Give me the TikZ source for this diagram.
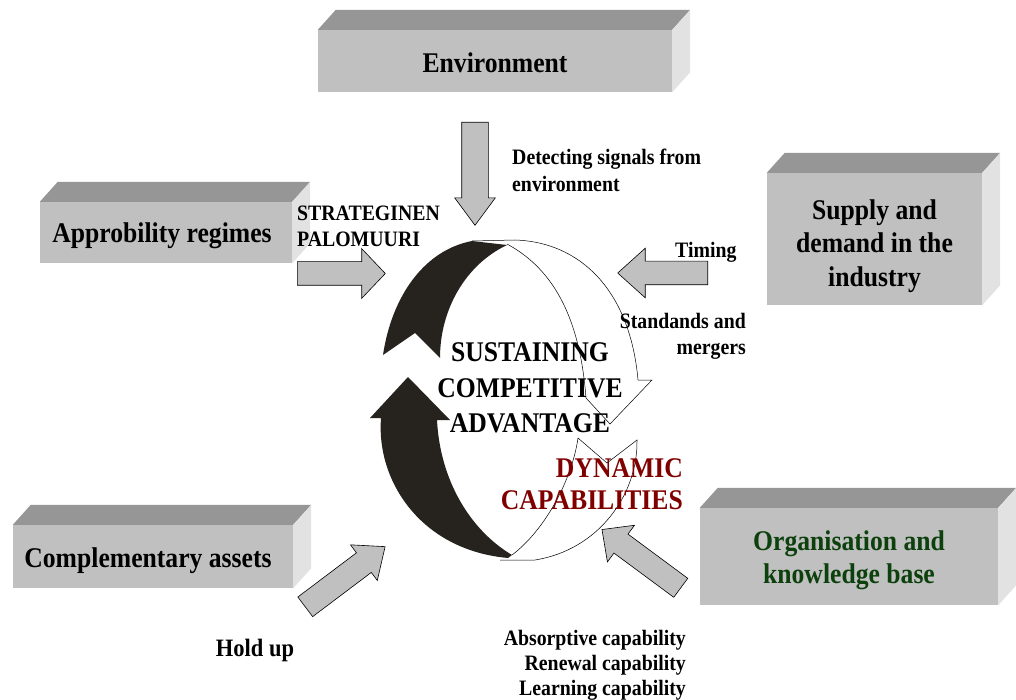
\documentclass[tikz,border=0pt]{standalone}
\usepackage{fontspec}
\setmainfont{Liberation Serif}[FakeStretch=0.9]
\usepackage{tikz}
\usetikzlibrary{shapes.arrows,calc}

\definecolor{slabfront}{RGB}{192,192,192}
\definecolor{slabtop}{RGB}{150,150,150}
\definecolor{slabside}{RGB}{226,226,226}
\definecolor{loopdark}{RGB}{38,34,30}
\definecolor{dynred}{RGB}{128,0,0}
\definecolor{orggreen}{RGB}{12,64,12}

\newcommand{\slabfont}{\fontsize{28.5}{33.5}\selectfont\bfseries}
\newcommand{\notefont}{\fontsize{22}{26}\selectfont\bfseries}

\tikzset{
slab/.style = {rectangle, fill=slabfront, inner sep=0pt},
slabtext/.style = {inner sep=0pt, align=center, font=\slabfont},
flow/.style = {single arrow, draw=black, line width=0.6pt, fill=slabfront,
               inner xsep=0pt, anchor=tail, single arrow head indent=0pt},
note/.style = {inner sep=0pt, font=\notefont}
}

\begin{document}
\begin{tikzpicture}[x=1pt, y=-1pt]
    \path[use as bounding box, fill=white] (0,0) rectangle (1016,700);

    % 3D boxes
    \node[slab, minimum width=354pt, minimum height=62pt] (envbox) at (495,61) {};
    \node[slab, minimum width=252pt, minimum height=61pt] (apprbox) at (166,232.5) {};
    \node[slab, minimum width=215pt, minimum height=132pt] (supplybox) at (874.5,239) {};
    \node[slab, minimum width=280pt, minimum height=63pt] (complbox) at (153,556.5) {};
    \node[slab, minimum width=298pt, minimum height=97pt] (orgbox) at (849,556.5) {};
    \foreach \b in {envbox,apprbox,supplybox,complbox,orgbox}{
        \fill[slabtop] (\b.north west) -- ++(18,-20) -- ($(\b.north east)+(18,-20)$) -- (\b.north east) -- cycle;
        \fill[slabside] (\b.north east) -- ++(18,-20) -- ($(\b.south east)+(18,-20)$) -- (\b.south east) -- cycle;
    }
    \node[slabtext] (envtext) at (495,63) {Environment};
    \node[slabtext] (apprtext) at (162,236) {Approbility regimes};
    \node[slabtext] (supplytext) at (874.5,246) {Supply and\\demand in the\\industry};
    \node[slabtext] (compltext) at (148,561) {Complementary assets};
    \node[slabtext, text=orggreen] (orgtext) at (849,560.5) {Organisation and\\knowledge base};

    % upper loop arrow
    \filldraw[fill=white, draw=black, line width=0.5pt] (472,241) -- (515,240) .. controls (580,242) and (630,290) .. (638,380)
        -- (652,380) -- (610,424) -- (586,398) .. controls (580,320) and (555,270) .. (507,244);
    \fill[loopdark] (383,355) -- (415,333) -- (440,358) .. controls (440,310) and (465,265) .. (507,245)
        -- (472,241) .. controls (425,250) and (392,295) .. (383,355) -- cycle;

    % lower loop arrow
    \filldraw[fill=white, draw=black, line width=0.5pt] (512,555) .. controls (545,530) and (572,480) .. (578,438)
        -- (607,463) -- (637,440) .. controls (638,495) and (598,550) .. (535,560) -- (500,560);
    \fill[loopdark] (370,418) -- (408,377) -- (450,420) -- (437,420) .. controls (440,480) and (470,530) .. (512,555)
        -- (508,558) .. controls (420,550) and (376,480) .. (381,418) -- cycle;

    % block arrows
    \node[flow, rotate=-90, minimum height=103pt, inner ysep=13pt, single arrow head extend=7pt, single arrow tip angle=73] (sigarrow) at (475,122) {};
    \node[flow, rotate=0, minimum height=88pt, inner ysep=11.5pt, single arrow head extend=13pt, single arrow tip angle=93] (apprarrow) at (297,273.5) {};
    \node[flow, rotate=180, minimum height=90pt, inner ysep=11.5pt, single arrow head extend=13pt, single arrow tip angle=84] (timearrow) at (708,273) {};
    \node[flow, rotate=37, minimum height=100pt, inner ysep=12pt, single arrow head extend=10pt, single arrow tip angle=80] (holdarrow) at (305,607) {};
    \node[flow, rotate=143.5, minimum height=98pt, inner ysep=11.5pt, single arrow head extend=11pt, single arrow tip angle=88] (orgarrow) at (681,588) {};

    % texts
    \node[inner sep=0pt, align=center, font=\fontsize{28.5}{35.5}\selectfont\bfseries] (sustain) at (530,388) {SUSTAINING\\COMPETITIVE\\ADVANTAGE};
    \node[inner sep=0pt, align=right, anchor=east, text=dynred, font=\fontsize{28.5}{32}\selectfont\bfseries] (dynamic) at (683,484.5) {DYNAMIC\\CAPABILITIES};
    \node[note, align=left, anchor=west, font=\fontsize{22}{27}\selectfont\bfseries] (signals) at (512,170.5) {Detecting signals from\\environment};
    \node[note, align=left, anchor=west, font=\fontsize{22}{26}\selectfont\bfseries] (firewall) at (297,226) {STRATEGINEN\\PALOMUURI};
    \node[note, anchor=west] (timing) at (675,252) {Timing};
    \node[note, align=right, anchor=east] (standards) at (746,336.5) {Standands and\\mergers};
    \node[note, font=\fontsize{25}{30}\selectfont\bfseries] (holdup) at (255,650.5) {Hold up};
    \node[note, align=right, anchor=east, font=\fontsize{22}{25}\selectfont\bfseries] (capab) at (686,665) {Absorptive capability\\Renewal capability\\Learning capability};
\end{tikzpicture}
\end{document}
